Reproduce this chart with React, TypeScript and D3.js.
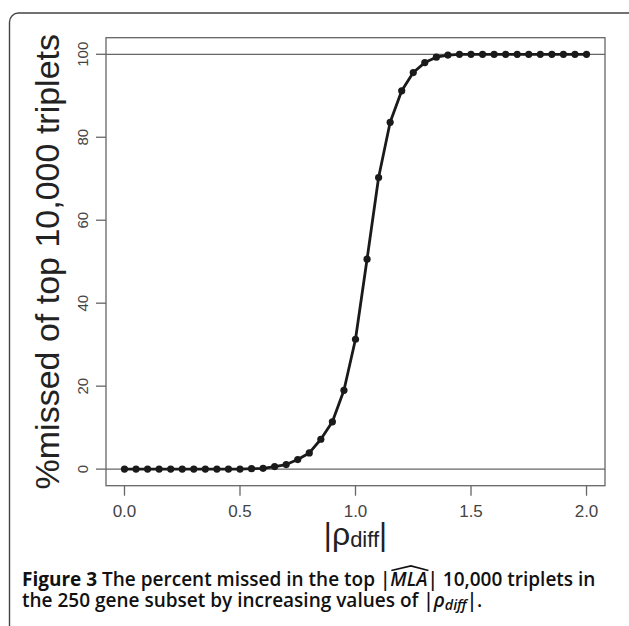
import React, { useLayoutEffect, useRef, useState } from 'react';
import * as d3 from 'd3';

// ---- data ----
const rhoDiff = [
  0, 0.05, 0.1, 0.15, 0.2, 0.25, 0.3, 0.35, 0.4, 0.45,
  0.5, 0.55, 0.6, 0.65, 0.7, 0.75, 0.8, 0.85, 0.9, 0.95,
  1.0, 1.05, 1.1, 1.15, 1.2, 1.25, 1.3, 1.35, 1.4, 1.45,
  1.5, 1.55, 1.6, 1.65, 1.7, 1.75, 1.8, 1.85, 1.9, 1.95, 2.0,
];
const pctMissed = [
  0, 0, 0, 0, 0, 0, 0, 0, 0, 0,
  0, 0.1, 0.2, 0.6, 1.1, 2.3, 3.9, 7.2, 11.4, 19.0,
  31.3, 50.6, 70.3, 83.6, 91.2, 95.6, 98.0, 99.3, 99.8, 100,
  100, 100, 100, 100, 100, 100, 100, 100, 100, 100, 100,
];
const xTicks = [0, 0.5, 1.0, 1.5, 2.0];
const xTickLabels = ['0.0', '0.5', '1.0', '1.5', '2.0'];
const yTicks = [0, 20, 40, 60, 80, 100];
const refLines = [0, 100];

const captionLine1 = ['Figure 3', ' The percent missed in the top |', 'MLA', '| 10,000 triplets in'];
const captionLine2 = ['the 250 gene subset by increasing values of |', '\u03c1', 'diff', '|.'];

const W = 629;
const H = 626;
const P = { left: 106, right: 605, top: 37.7, bottom: 485.7 };

export default function App() {
  const x = d3.scaleLinear().domain([-0.08, 2.08]).range([P.left, P.right]);
  const y = d3.scaleLinear().domain([-4, 104]).range([P.bottom, P.top]);
  const line = d3
    .line<number>()
    .x((_, i) => x(rhoDiff[i]))
    .y((d) => y(d));

  const capRef = useRef<SVGTextElement>(null);
  const [hat, setHat] = useState<{ x0: number; x1: number } | null>(null);

  useLayoutEffect(() => {
    const el = capRef.current;
    if (!el) return;
    const full = captionLine1.join('');
    const i0 = full.indexOf('MLA');
    try {
      const s = el.getStartPositionOfChar(i0).x;
      const e = el.getEndPositionOfChar(i0 + 2).x;
      setHat({ x0: s, x1: e });
    } catch (err) {
      setHat(null);
    }
  }, []);

  const capBase1 = 585.5;
  const capBase2 = 607;
  const capSize = 19;
  const capTop = capBase1 - 0.714 * capSize;

  return (
    <svg
      width={W}
      height={H}
      style={{ position: 'absolute', left: 0, top: 0, background: '#fff' }}
      fontFamily="'Liberation Sans', Arial, sans-serif"
    >
      <rect x={0} y={0} width={W} height={H} fill="#fff" />
      {/* outer figure frame */}
      <rect x={9.5} y={13} width={700} height={700} rx={9} fill="none" stroke="#444" strokeWidth={1.4} />

      {/* plot box */}
      <rect
        x={P.left}
        y={P.top}
        width={P.right - P.left}
        height={P.bottom - P.top}
        fill="none"
        stroke="#666"
        strokeWidth={1.3}
      />

      {/* reference lines */}
      {refLines.map((v) => (
        <line key={v} x1={P.left} x2={P.right} y1={y(v)} y2={y(v)} stroke="#666" strokeWidth={1.3} />
      ))}

      {/* x axis */}
      {xTicks.map((t, i) => (
        <g key={t}>
          <line x1={x(t)} x2={x(t)} y1={P.bottom} y2={P.bottom + 10} stroke="#666" strokeWidth={1.3} />
          <text x={x(t)} y={517} textAnchor="middle" fontSize={17} fill="#444">
            {xTickLabels[i]}
          </text>
        </g>
      ))}

      {/* y axis */}
      {yTicks.map((t) => (
        <g key={t}>
          <line x1={P.left - 10} x2={P.left} y1={y(t)} y2={y(t)} stroke="#666" strokeWidth={1.3} />
          <text
            transform={`translate(88,${y(t)}) rotate(-90)`}
            textAnchor="middle"
            fontSize={15}
            fill="#444"
          >
            {t}
          </text>
        </g>
      ))}

      {/* axis titles */}
      <text
        transform={`translate(59,${(P.top + P.bottom) / 2}) rotate(-90)`}
        textAnchor="middle"
        fontSize={34}
        fill="#222"
      >
        %missed of top 10,000 triplets
      </text>
      <text x={(P.left + P.right) / 2} y={545} textAnchor="middle" fill="#222">
        <tspan fontSize={31}>|</tspan>
        <tspan fontSize={32}>{'\u03c1'}</tspan>
        <tspan fontSize={22} dy={2}>
          diff
        </tspan>
        <tspan fontSize={31} dy={-2}>
          |
        </tspan>
      </text>

      {/* data */}
      <path d={line(pctMissed) || ''} fill="none" stroke="#1a1a1a" strokeWidth={2.8} strokeLinejoin="round" />
      {pctMissed.map((v, i) => (
        <circle key={i} cx={x(rhoDiff[i])} cy={y(v)} r={3.6} fill="#1a1a1a" />
      ))}

      {/* caption */}
      <g fontFamily="'Open Sans', 'Noto Sans', sans-serif" fill="#111">
        <text ref={capRef} x={22} y={capBase1} fontSize={capSize} fontWeight={600}>
          <tspan fontWeight={700}>{captionLine1[0]}</tspan>
          <tspan>{captionLine1[1]}</tspan>
          <tspan fontStyle="italic">{captionLine1[2]}</tspan>
          <tspan>{captionLine1[3]}</tspan>
        </text>
        {hat && (
          <path
            d={`M${hat.x0 + 1},${capTop - 1.5} L${(hat.x0 + hat.x1) / 2 + 2},${capTop - 6} L${hat.x1 + 1},${capTop - 1.5}`}
            fill="none"
            stroke="#111"
            strokeWidth={1.6}
          />
        )}
        <text x={22} y={capBase2} fontSize={capSize} fontWeight={600}>
          <tspan>{captionLine2[0]}</tspan>
          <tspan fontStyle="italic">{captionLine2[1]}</tspan>
          <tspan fontStyle="italic" fontSize={capSize * 0.75} dy={3}>
            {captionLine2[2]}
          </tspan>
          <tspan dy={-3}>{captionLine2[3]}</tspan>
        </text>
      </g>
    </svg>
  );
}
